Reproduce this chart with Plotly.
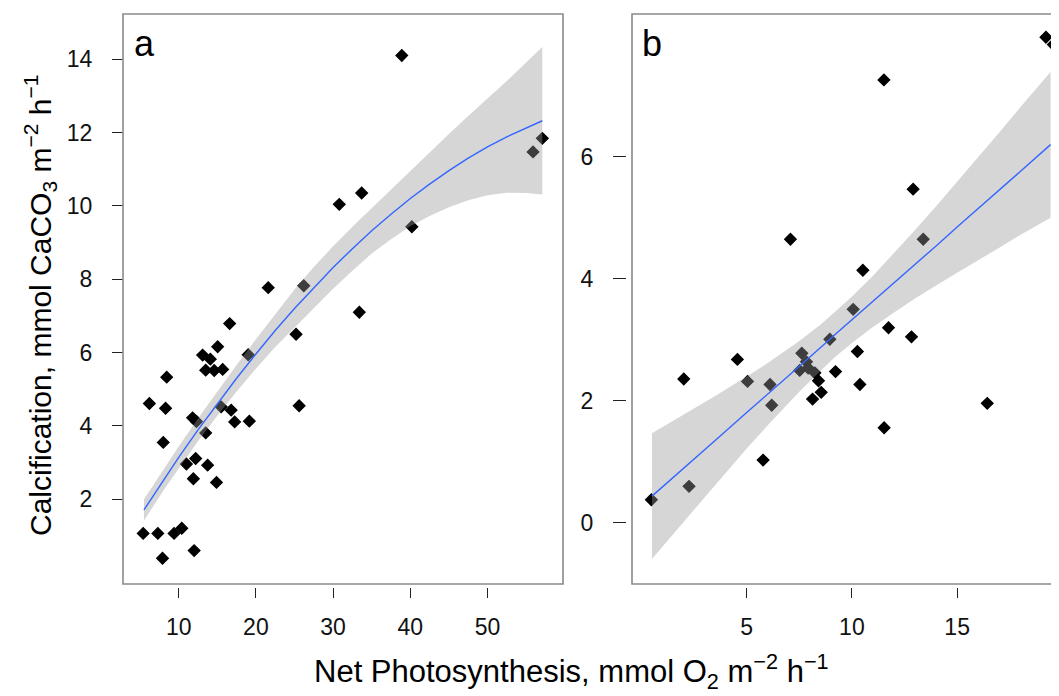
import plotly.graph_objects as go

# ---------------- data ----------------
# Panel a: Net photosynthesis vs calcification
a_x = [38.9, 57.1, 55.9, 30.8, 33.7, 40.2, 21.6, 26.2, 33.4, 16.6, 25.2, 15.05, 19.0, 13.1,
       14.1, 13.5, 14.6, 15.7, 8.45, 6.2, 8.3, 25.6, 15.5, 16.8, 11.8, 12.3, 17.25, 19.15,
       13.5, 8.0, 12.2, 11.0, 13.75, 11.9, 14.9, 5.4, 7.3, 9.4, 10.4, 12.0, 7.9]
a_y = [14.10, 11.84, 11.47, 10.04, 10.35, 9.43, 7.77, 7.82, 7.10, 6.79, 6.50, 6.16, 5.94, 5.93,
       5.82, 5.52, 5.51, 5.54, 5.33, 4.61, 4.48, 4.55, 4.52, 4.43, 4.22, 4.12, 4.11, 4.13,
       3.81, 3.55, 3.11, 2.96, 2.93, 2.56, 2.46, 1.07, 1.07, 1.07, 1.21, 0.60, 0.39]

# Panel a smoother (fit line and confidence band)
a_fit_x = [5.5, 8, 10, 12.5, 15, 17.5, 20, 22.5, 25, 27.5, 30, 32.5, 35, 37.5, 40, 42.5,
           45, 47.5, 50, 52.5, 55, 57.1]
a_fit_y = [1.71, 2.52, 3.14, 3.89, 4.61, 5.30, 5.96, 6.60, 7.20, 7.77, 8.32, 8.83, 9.32,
           9.77, 10.20, 10.59, 10.96, 11.30, 11.61, 11.88, 12.13, 12.32]
a_upper = [2.00, 2.81, 3.44, 4.20, 4.94, 5.66, 6.36, 7.05, 7.72, 8.33, 8.90, 9.43, 9.94,
           10.45, 10.96, 11.46, 11.96, 12.45, 12.93, 13.40, 13.91, 14.33]
a_lower = [1.42, 2.23, 2.84, 3.58, 4.28, 4.94, 5.56, 6.15, 6.68, 7.21, 7.74, 8.23, 8.70,
           9.09, 9.44, 9.72, 9.96, 10.15, 10.29, 10.36, 10.35, 10.31]

# Panel b
b_x = [19.22, 19.57, 11.52, 12.91, 7.08, 13.39, 10.52, 10.06, 11.74, 12.83, 8.95, 10.26, 4.56,
       7.62, 7.84, 7.52, 7.92, 8.24, 9.22, 2.01, 5.04, 6.11, 8.41, 10.38, 8.54, 8.13, 6.19,
       16.43, 11.53, 5.78, 2.26, 0.47]
b_y = [7.96, 7.84, 7.26, 5.47, 4.65, 4.65, 4.14, 3.50, 3.20, 3.05, 3.01, 2.81, 2.68,
       2.78, 2.64, 2.50, 2.54, 2.46, 2.48, 2.36, 2.32, 2.27, 2.33, 2.27, 2.14, 2.03, 1.93,
       1.96, 1.56, 1.03, 0.60, 0.38]

b_fit_x = [0.5, 1.5, 2.5, 3.5, 5, 6, 7.5, 8.5, 9.2, 10, 11, 12, 13, 14, 15, 16, 17, 18, 19.44]
b_fit_y = [0.44, 0.74, 1.05, 1.35, 1.81, 2.11, 2.57, 2.87, 3.09, 3.33, 3.63, 3.94, 4.24,
           4.54, 4.85, 5.15, 5.46, 5.76, 6.20]
b_upper = [1.47, 1.67, 1.88, 2.08, 2.40, 2.62, 2.98, 3.25, 3.46, 3.71, 4.05, 4.42, 4.80,
           5.19, 5.59, 5.99, 6.40, 6.81, 7.39]
b_lower = [-0.59, -0.18, 0.22, 0.62, 1.22, 1.60, 2.15, 2.49, 2.72, 2.95, 3.21, 3.45, 3.68,
           3.89, 4.10, 4.31, 4.51, 4.72, 5.00]

a_xticks = [10, 20, 30, 40, 50]
a_yticks = [2, 4, 6, 8, 10, 12, 14]
b_xticks = [5, 10, 15]
b_yticks = [0, 2, 4, 6]

x_title = "Net Photosynthesis, mmol O<sub>2</sub> m<sup>\u22122</sup> h<sup>\u22121</sup>"
y_title = "Calcification, mmol CaCO<sub>3</sub> m<sup>\u22122</sup> h<sup>\u22121</sup>"

# ---------------- styling / geometry ----------------
PAGE_OFF = 8            # default page margin around the plot div
W, H = 1059 - PAGE_OFF, 696 - PAGE_OFF
FONT = "Liberation Sans, Arial, sans-serif"
BAND = "rgba(153,153,153,0.4)"
LINE = "#3366FF"
FRAME = "#8a8a8a"


def fx(p):
    """screen x pixel -> paper fraction"""
    return (p - PAGE_OFF) / W


def fy(p):
    """screen y pixel -> paper fraction"""
    return 1 - (p - PAGE_OFF) / H


top_px, bot_px = 14, 584
a_left, a_right = 123, 563
b_left = 632

fig = go.Figure()

marker = dict(symbol="diamond", size=9, color="black", line=dict(color="black", width=1.2))

for xs, ys, fxs, fys, up, lo, xa, ya in [
    (a_x, a_y, a_fit_x, a_fit_y, a_upper, a_lower, "x", "y"),
    (b_x, b_y, b_fit_x, b_fit_y, b_upper, b_lower, "x2", "y2"),
]:
    fig.add_trace(go.Scatter(x=xs, y=ys, mode="markers", marker=marker,
                             xaxis=xa, yaxis=ya, showlegend=False, hoverinfo="x+y"))
    fig.add_trace(go.Scatter(x=fxs + fxs[::-1], y=up + lo[::-1], mode="lines",
                             fill="toself", fillcolor=BAND, line=dict(width=0),
                             xaxis=xa, yaxis=ya, showlegend=False, hoverinfo="skip"))
    fig.add_trace(go.Scatter(x=fxs, y=fys, mode="lines", line=dict(color=LINE, width=1.4),
                             xaxis=xa, yaxis=ya, showlegend=False, hoverinfo="skip"))

tickfont = dict(family=FONT, size=23, color="#111111")
common = dict(showgrid=False, zeroline=False, showline=False, ticks="outside",
              tickwidth=1, tickcolor="#222222", tickfont=tickfont, fixedrange=True)

ydom = [fy(bot_px), fy(top_px)]

fig.update_layout(
    width=W, height=H,
    margin=dict(l=0, r=0, t=0, b=0),
    paper_bgcolor="white", plot_bgcolor="white",
    xaxis=dict(domain=[fx(a_left), fx(a_right)], range=[2.785, 59.78], anchor="free",
               position=fy(587), ticklen=10, tickvals=a_xticks, ticklabelstandoff=9, **common),
    yaxis=dict(domain=ydom, range=[-0.31, 15.23], anchor="free", position=fx(a_left),
               ticklen=11, tickvals=a_yticks, ticklabelstandoff=15, **common),
    xaxis2=dict(domain=[fx(b_left), 1.0], range=[-0.45, 19.84], anchor="free",
                position=fy(587), ticklen=10, tickvals=b_xticks, ticklabelstandoff=9, **common),
    yaxis2=dict(domain=ydom, range=[-1.0, 8.34], anchor="free", position=fx(626),
                ticklen=13, tickvals=b_yticks, ticklabelstandoff=15, **common),
    shapes=[
        dict(type="rect", xref="paper", yref="paper", x0=fx(a_left), x1=fx(a_right),
             y0=fy(bot_px), y1=fy(top_px), line=dict(color=FRAME, width=1.6)),
        dict(type="rect", xref="paper", yref="paper", x0=fx(b_left), x1=1.02,
             y0=fy(bot_px), y1=fy(top_px), line=dict(color=FRAME, width=1.6)),
    ],
    annotations=[
        dict(text="a", x=fx(132), y=fy(21), xref="paper", yref="paper", xanchor="left",
             yanchor="top", showarrow=False, font=dict(family=FONT, size=36, color="black")),
        dict(text="b", x=fx(640), y=fy(21), xref="paper", yref="paper", xanchor="left",
             yanchor="top", showarrow=False, font=dict(family=FONT, size=36, color="black")),
        dict(text=x_title, x=fx(571), y=fy(671), xref="paper", yref="paper", xanchor="center",
             yanchor="middle", showarrow=False, font=dict(family=FONT, size=31, color="black")),
        dict(text=y_title, x=fx(40), y=fy(306), xref="paper", yref="paper", xanchor="center",
             yanchor="middle", textangle=-90, showarrow=False,
             font=dict(family=FONT, size=30, color="black")),
    ],
)

fig.write_html("out.html")
